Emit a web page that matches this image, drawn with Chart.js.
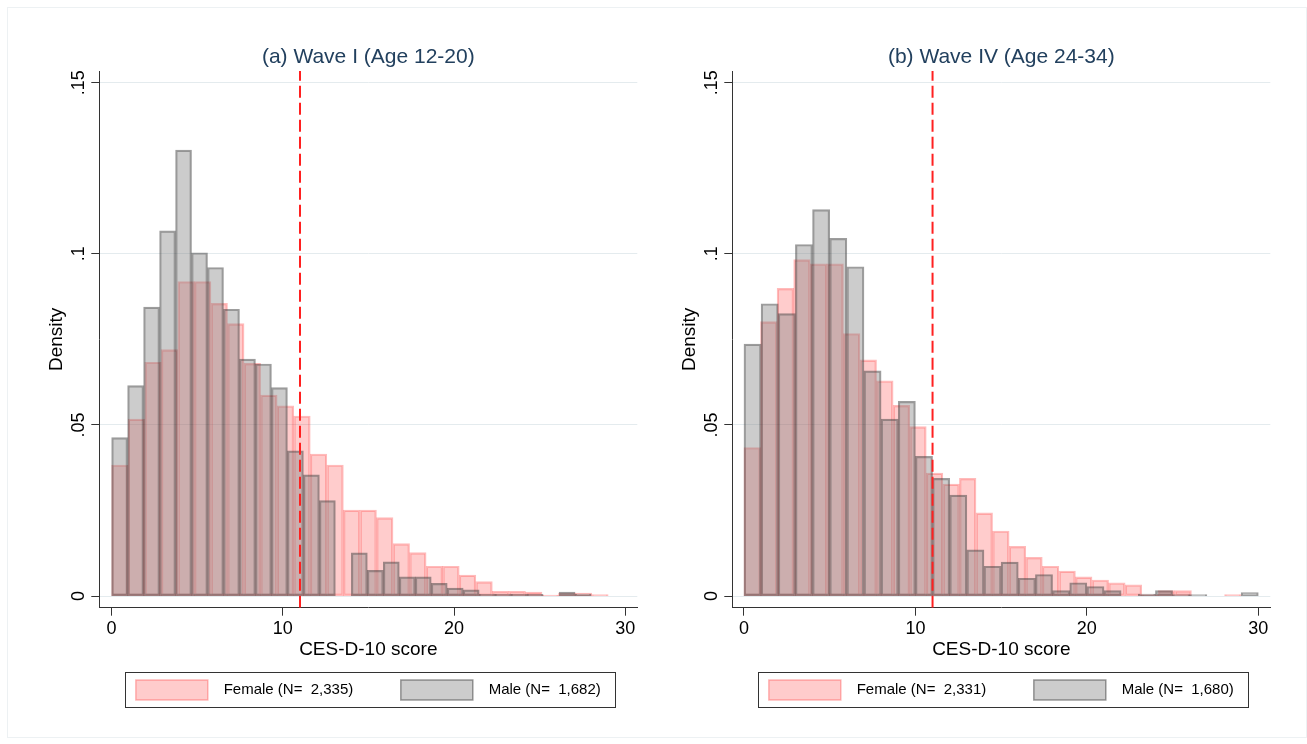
<!DOCTYPE html>
<html lang="en">
<head>
  <meta charset="UTF-8" />
  <title>CES-D-10 score by wave</title>
  <script src="https://cdn.jsdelivr.net/npm/chart.js"></script>
  <style>
    body {
      margin: 0;
      background: #fff;
      width: 1307px;
      height: 744px;
      position: relative;
      overflow: hidden;
    }
    .frame {
      position: absolute;
      left: 7px;
      top: 7px;
      width: 1298px;
      height: 729px;
      border: 1px solid #edf1f3;
    }
    .panel {
      position: absolute;
      top: 0;
    }
  </style>
</head>
<body>
  <div class="frame"></div>
  <canvas id="waveI" class="panel" width="660" height="744" style="left:0"></canvas>
  <canvas id="waveIV" class="panel" width="660" height="744" style="left:633px"></canvas>

<script>
  // density per bin (30 bins each)
  const femaleWave1 = [0.0383, 0.0517, 0.0683, 0.0720, 0.0919, 0.0919, 0.0855, 0.0796, 0.0680, 0.0587,
                       0.0556, 0.0526, 0.0415, 0.0383, 0.0251, 0.0251, 0.0229, 0.0153, 0.0127, 0.0087,
                       0.0087, 0.0061, 0.0042, 0.0014, 0.0014, 0.0012, 0.0003, 0.0009, 0.0009, 0.0004];
  const maleWave1   = [0.0463, 0.0615, 0.0844, 0.1067, 0.1303, 0.1003, 0.0960, 0.0838, 0.0692, 0.0678,
                       0.0609, 0.0424, 0.0354, 0.0279, 0,      0.0126, 0.0075, 0.0100, 0.0056, 0.0056,
                       0.0037, 0.0023, 0.0018, 0.0005, 0.0005, 0.0005, 0.0005, 0,      0.0012, 0.0006];
  const femaleWave4 = [0.0434, 0.0802, 0.0899, 0.0983, 0.0971, 0.0971, 0.0767, 0.0690, 0.0629, 0.0557,
                       0.0495, 0.0359, 0.0327, 0.0344, 0.0243, 0.0190, 0.0145, 0.0113, 0.0087, 0.0073,
                       0.0056, 0.0047, 0.0039, 0.0033, 0.0004, 0.0016, 0.0016, 0,      0,      0.0004];
  const maleWave4   = [0.0736, 0.0854, 0.0825, 0.1027, 0.1129, 0.1045, 0.0962, 0.0658, 0.0517, 0.0569,
                       0.0408, 0.0344, 0.0295, 0.0135, 0.0087, 0.0099, 0.0052, 0.0063, 0.0016, 0.0039,
                       0.0028, 0.0016, 0,      0.0006, 0.0016, 0.0004, 0.0004, 0,      0,      0.0010];

  // bin widths: observed score range split into 30 bins
  const binFemale1 = 29 / 30;
  const binMale1 = 28 / 30;
  const binFemale4 = 29 / 30;
  const binMale4 = 30 / 30;

  const cutoff = 11;
  const xTicks = [0, 10, 20, 30];
  const yTicks = [0, 0.05, 0.1, 0.15];
  const yTickLabels = ['0', '.05', '.1', '.15'];
  const yMin = -0.0034, yMax = 0.1534;

  Chart.defaults.font.family = 'Arial, "Liberation Sans", sans-serif';
  Chart.defaults.color = '#000';

  const hist = (vals, w) => vals.map((v, i) => ({ x: (i + 0.5) * w, y: v }));

  // box round the legend, like Stata's
  const legendFrame = {
    id: 'legendFrame',
    afterDraw(chart) {
      const boxes = chart.legend.legendHitBoxes;
      if (!boxes || !boxes.length) return;
      const first = boxes[0], last = boxes[boxes.length - 1];
      const l = Math.round(first.left - 11) + 0.5;
      const t = Math.round(first.top - 8) + 0.5;
      const r = Math.round(last.left + last.width + 14) + 0.5;
      const b = Math.round(first.top + first.height + 7) + 0.5;
      const ctx = chart.ctx;
      ctx.save();
      ctx.strokeStyle = '#333';
      ctx.lineWidth = 1;
      ctx.strokeRect(l, t, r - l, b - t);
      ctx.restore();
    }
  };

  function makePanel(id, title, female, wF, femaleLabel, male, wM, maleLabel, xMin) {
    const ctx = document.getElementById(id).getContext('2d');
    const setXTicks = s => { s.ticks = xTicks.map(v => ({ value: v })); };
    return new Chart(ctx, {
      type: 'bar',
      data: {
        datasets: [
          {
            label: femaleLabel,
            data: hist(female, wF),
            xAxisID: 'x',
            backgroundColor: 'rgba(255, 0, 0, 0.2)',
            borderColor: 'rgba(255, 30, 30, 0.3)',
            borderWidth: 1.5,
            borderSkipped: false,
            grouped: false,
            categoryPercentage: 1,
            barPercentage: 1,
            order: 2
          },
          {
            label: maleLabel,
            data: hist(male, wM),
            xAxisID: 'xm',
            backgroundColor: 'rgba(128, 128, 128, 0.4)',
            borderColor: 'rgba(60, 60, 60, 0.5)',
            borderWidth: 1.5,
            borderSkipped: false,
            grouped: false,
            categoryPercentage: 1,
            barPercentage: 1,
            order: 1
          },
          {
            type: 'line',
            label: 'cutoff',
            data: [{ x: cutoff, y: yMin }, { x: cutoff, y: yMax }],
            xAxisID: 'x',
            borderColor: '#ff2020',
            borderWidth: 2,
            borderDash: [12, 5],
            pointRadius: 0,
            order: 0
          }
        ]
      },
      options: {
        responsive: false,
        animation: false,
        devicePixelRatio: 1,
        layout: { padding: { left: 39.3, right: 22.7, top: 0, bottom: 34 } },
        plugins: {
          title: {
            display: true,
            text: title,
            fullSize: false,
            color: '#22405e',
            font: { size: 21, weight: 'normal' },
            padding: { top: 44.4, bottom: 1.4 }
          },
          legend: {
            position: 'bottom',
            fullSize: false,
            labels: {
              boxWidth: 72,
              boxHeight: 20,
              padding: 10,
              color: '#000',
              font: { size: 15 },
              filter: item => item.datasetIndex < 2,
              sort: (a, b) => a.datasetIndex - b.datasetIndex,
              generateLabels: chart => Chart.defaults.plugins.legend.labels.generateLabels(chart).map(item => {
                item.text = '  ' + item.text + (item.datasetIndex === 0 ? '         ' : '');
                return item;
              })
            }
          },
          tooltip: { enabled: false }
        },
        scales: {
          x: {
            type: 'linear',
            min: xMin,
            max: 30.7,
            offset: false,
            afterBuildTicks: setXTicks,
            afterFit: s => { s.height = 62.3; },
            grid: { offset: false, drawOnChartArea: false, tickLength: 8, tickColor: '#333' },
            border: { color: '#333' },
            ticks: { font: { size: 18 }, padding: 3, color: '#000' },
            title: { display: true, text: 'CES-D-10 score', font: { size: 19 }, padding: { top: 0, bottom: 8.6 } }
          },
          xm: {
            type: 'linear',
            display: false,
            min: xMin,
            max: 30.7,
            offset: false,
            grid: { offset: false },
            afterBuildTicks: setXTicks
          },
          y: {
            min: yMin,
            max: yMax,
            afterBuildTicks: s => { s.ticks = yTicks.map(v => ({ value: v })); },
            afterFit: s => { s.width = 60; },
            grid: { color: '#e4ebee', tickColor: '#333', tickLength: 8 },
            border: { color: '#333' },
            ticks: {
              minRotation: 90,
              maxRotation: 90,
              crossAlign: 'center',
              padding: 0,
              font: { size: 18 },
              color: '#000',
              callback: (v, i) => yTickLabels[i]
            },
            title: { display: true, text: 'Density', font: { size: 19 }, padding: { top: 6, bottom: 0 } }
          }
        }
      },
      plugins: [legendFrame]
    });
  }

  makePanel('waveI', '(a) Wave I (Age 12-20)',
    femaleWave1, binFemale1, 'Female (N=  2,335)',
    maleWave1, binMale1, 'Male (N=  1,682)', -0.72);

  makePanel('waveIV', '(b) Wave IV (Age 24-34)',
    femaleWave4, binFemale4, 'Female (N=  2,331)',
    maleWave4, binMale4, 'Male (N=  1,680)', -0.68);
</script>
</body>
</html>
